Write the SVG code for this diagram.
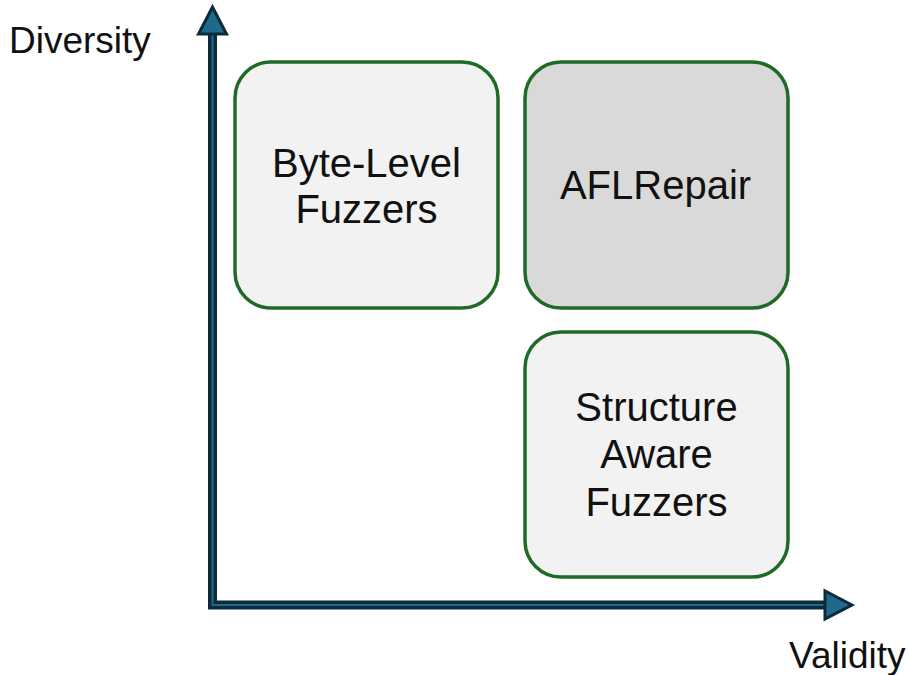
<svg xmlns="http://www.w3.org/2000/svg" width="909" height="675" viewBox="0 0 909 675">
<style>
.box{stroke:#1E6B27;stroke-width:3.5}
.t{font-family:"Liberation Sans",Arial,sans-serif;font-size:40px;fill:#111;text-anchor:middle}
.lbl{font-family:"Liberation Sans",Arial,sans-serif;font-size:37px;fill:#111}
.axo{fill:none;stroke:#0B2A3A;stroke-width:9}
.axi{fill:none;stroke:#1F6A8A;stroke-width:2}
.head{fill:#1F6A8A;stroke:#0B2A3A;stroke-width:3;stroke-linejoin:miter}
</style>
<rect width="909" height="675" fill="#fff"/>
<g id="axes">
<path class="axo" d="M212.5,34 V605 H824"/>
<path class="axi" d="M212.5,34 V605 H824"/>
<polygon class="head" points="212.5,7 198.5,34 226.5,34"/>
<polygon class="head" points="852,605 825,591 825,619"/>
</g>
<g id="byte-level">
<rect class="box" x="235" y="62" width="263" height="246" rx="36" fill="#F2F2F2"/>
<text class="t" x="366.5" y="177">Byte-Level</text>
<text class="t" x="366.5" y="223">Fuzzers</text>
</g>
<g id="aflrepair">
<rect class="box" x="525" y="62" width="263" height="246" rx="36" fill="#D9D9D9"/>
<text class="t" x="655.5" y="199">AFLRepair</text>
</g>
<g id="structure-aware">
<rect class="box" x="525" y="332" width="263" height="245" rx="36" fill="#F2F2F2"/>
<text class="t" x="656.5" y="421">Structure</text>
<text class="t" x="656.5" y="468">Aware</text>
<text class="t" x="656.5" y="516">Fuzzers</text>
</g>
<text class="lbl" x="9" y="53">Diversity</text>
<text class="lbl" x="789" y="668">Validity</text>
</svg>
